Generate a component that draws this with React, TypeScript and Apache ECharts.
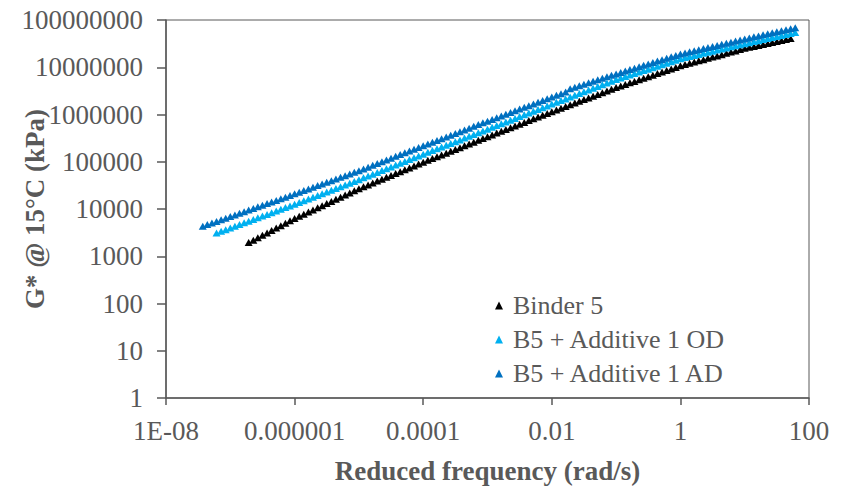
import React, { useEffect, useRef } from "react";
import * as echarts from "echarts";

// Reduced frequency grid (rad/s)
const freqGrid = [
  3.73e-8, 4.39e-8, 5.18e-8, 6.11e-8, 7.2e-8, 8.48e-8,
  1e-7, 1.18e-7, 1.39e-7, 1.64e-7, 1.93e-7, 2.28e-7, 2.68e-7, 3.16e-7, 3.73e-7, 4.39e-7, 5.18e-7, 6.11e-7, 7.2e-7, 8.48e-7,
  1e-6, 1.18e-6, 1.39e-6, 1.64e-6, 1.93e-6, 2.28e-6, 2.68e-6, 3.16e-6, 3.73e-6, 4.39e-6, 5.18e-6, 6.11e-6, 7.2e-6, 8.48e-6,
  1e-5, 1.18e-5, 1.39e-5, 1.64e-5, 1.93e-5, 2.28e-5, 2.68e-5, 3.16e-5, 3.73e-5, 4.39e-5, 5.18e-5, 6.11e-5, 7.2e-5, 8.48e-5,
  1e-4, 1.18e-4, 1.39e-4, 1.64e-4, 1.93e-4, 2.28e-4, 2.68e-4, 3.16e-4, 3.73e-4, 4.39e-4, 5.18e-4, 6.11e-4, 7.2e-4, 8.48e-4,
  1e-3, 1.18e-3, 1.39e-3, 1.64e-3, 1.93e-3, 2.28e-3, 2.68e-3, 3.16e-3, 3.73e-3, 4.39e-3, 5.18e-3, 6.11e-3, 7.2e-3, 8.48e-3,
  0.01, 0.0118, 0.0139, 0.0164, 0.0193, 0.0228, 0.0268, 0.0316, 0.0373, 0.0439, 0.0518, 0.0611, 0.072, 0.0848,
  0.1, 0.118, 0.139, 0.164, 0.193, 0.228, 0.268, 0.316, 0.373, 0.439, 0.518, 0.611, 0.72, 0.848,
  1, 1.18, 1.39, 1.64, 1.93, 2.28, 2.68, 3.16, 3.73, 4.39, 5.18, 6.11, 7.2, 8.48,
  10, 11.8, 13.9, 16.4, 19.3, 22.8, 26.8, 31.6, 37.3, 43.9, 51.8, 61.1,
];

const freqBinder5 = freqGrid.slice(10, 129);
const freqOD = freqGrid.slice(3);
const freqAD = freqGrid.slice(0);

// G* @ 15°C (kPa)
const gBinder5 = [
  1950, 2190, 2470, 2770, 3120, 3510, 3940, 4440, 4990, 5610,
  6310, 7000, 7760, 8610, 9550, 10600, 11700, 13000, 14500, 16000, 17800, 19700, 21900, 24300,
  26900, 29500, 32400, 35500, 38900, 42700, 46800, 51300, 56200, 61700, 67600, 74100, 81300, 89100,
  97700, 107000, 117000, 128000, 139000, 152000, 166000, 182000, 199000, 217000, 238000, 259000, 284000, 310000,
  339000, 370000, 404000, 441000, 480000, 524000, 572000, 624000, 681000, 743000, 811000, 883000, 964000, 1.05e6,
  1.15e6, 1.25e6, 1.36e6, 1.48e6, 1.61e6, 1.75e6, 1.9e6, 2.07e6, 2.24e6, 2.44e6, 2.65e6, 2.89e6, 3.14e6, 3.42e6,
  3.72e6, 4.01e6, 4.33e6, 4.67e6, 5.02e6, 5.42e6, 5.85e6, 6.31e6, 6.81e6, 7.35e6, 7.93e6, 8.53e6, 9.2e6, 9.93e6,
  1.07e7, 1.14e7, 1.21e7, 1.29e7, 1.37e7, 1.45e7, 1.55e7, 1.64e7, 1.74e7, 1.85e7, 1.97e7, 2.09e7, 2.22e7, 2.37e7,
  2.51e7, 2.64e7, 2.76e7, 2.9e7, 3.04e7, 3.19e7, 3.34e7, 3.51e7, 3.68e7, 3.86e7, 4.05e7,
];

const gOD = [
  3110, 3380, 3660,
  3980, 4330, 4690, 5090, 5530, 6010, 6520, 7080, 7690, 8340, 9060, 9840, 10700, 11600,
  12600, 13700, 14900, 16300, 17700, 19300, 21000, 22900, 24900, 27200, 29600, 32300, 35200, 38300,
  41700, 45600, 49800, 54400, 59400, 65000, 71000, 77600, 84900, 92700, 101000, 111000, 121000, 132000,
  145000, 158000, 172000, 188000, 205000, 223000, 244000, 266000, 290000, 317000, 346000, 377000, 411000, 449000,
  490000, 535000, 583000, 637000, 693000, 757000, 826000, 902000, 984000, 1.07e6, 1.17e6, 1.28e6, 1.39e6, 1.52e6,
  1.66e6, 1.81e6, 1.97e6, 2.14e6, 2.34e6, 2.55e6, 2.77e6, 3.02e6, 3.29e6, 3.58e6, 3.9e6, 4.26e6, 4.63e6, 5.05e6,
  5.5e6, 5.9e6, 6.35e6, 6.82e6, 7.35e6, 7.89e6, 8.49e6, 9.12e6, 9.8e6, 1.05e7, 1.13e7, 1.22e7, 1.31e7, 1.41e7,
  1.51e7, 1.6e7, 1.68e7, 1.77e7, 1.87e7, 1.97e7, 2.08e7, 2.19e7, 2.31e7, 2.43e7, 2.56e7, 2.7e7, 2.84e7, 3.0e7,
  3.16e7, 3.32e7, 3.49e7, 3.66e7, 3.86e7, 4.05e7, 4.26e7, 4.47e7, 4.69e7, 4.93e7, 5.18e7, 5.45e7,
];

const gAD = [
  4330, 4680, 5060, 5470, 5920, 6400,
  6920, 7480, 8110, 8770, 9480, 10300, 11100, 12000, 13000, 14100, 15200, 16500, 17800, 19300,
  20900, 22600, 24500, 26600, 28800, 31300, 33900, 36700, 39800, 43200, 46800, 50700, 55000, 59600,
  64600, 70500, 76900, 83900, 91400, 99800, 109000, 119000, 130000, 142000, 155000, 168000, 184000, 200000,
  219000, 238000, 259000, 283000, 308000, 336000, 366000, 398000, 434000, 472000, 514000, 561000, 611000, 665000,
  724000, 787000, 857000, 931000, 1.01e6, 1.1e6, 1.2e6, 1.3e6, 1.42e6, 1.54e6, 1.67e6, 1.82e6, 1.98e6, 2.16e6,
  2.34e6, 2.55e6, 2.76e6, 3.0e6, 3.52e6, 3.77e6, 4.05e6, 4.36e6, 4.69e6, 5.04e6, 5.42e6, 5.82e6, 6.27e6, 6.75e6,
  7.24e6, 7.76e6, 8.32e6, 8.91e6, 9.55e6, 1.02e7, 1.1e7, 1.17e7, 1.26e7, 1.35e7, 1.45e7, 1.55e7, 1.66e7, 1.78e7,
  1.91e7, 2.01e7, 2.12e7, 2.23e7, 2.35e7, 2.48e7, 2.61e7, 2.75e7, 2.9e7, 3.06e7, 3.23e7, 3.4e7, 3.58e7, 3.78e7,
  3.98e7, 4.18e7, 4.4e7, 4.61e7, 4.85e7, 5.09e7, 5.36e7, 5.62e7, 5.9e7, 6.21e7, 6.52e7, 6.86e7,
];

const seriesNames = ["Binder 5", "B5 + Additive 1 OD", "B5 + Additive 1 AD"];
const seriesColors = ["#000000", "#00B0F0", "#0070C0"];

const xTickValues = [1e-8, 1e-6, 1e-4, 1e-2, 1, 100];
const xTickLabels = ["1E-08", "0.000001", "0.0001", "0.01", "1", "100"];
const yTickValues = [1, 10, 100, 1000, 10000, 100000, 1000000, 10000000, 100000000];
const yTickLabels = ["1", "10", "100", "1000", "10000", "100000", "1000000", "10000000", "100000000"];

const xTitle = "Reduced frequency (rad/s)";
const yTitle = "G* @ 15°C (kPa)";

const FONT = '"Liberation Serif", "Times New Roman", serif';
const GREY = "#595959";

function labelFor(values: number[], labels: string[], v: number): string {
  const lv = Math.log10(v);
  const i = values.findIndex((t) => Math.abs(Math.log10(t) - lv) < 0.01);
  return i >= 0 ? labels[i] : "";
}

function zip(xs: number[], ys: number[]): number[][] {
  return ys.map((y, i) => [xs[i], y]);
}

export default function App() {
  const ref = useRef<HTMLDivElement>(null);

  useEffect(() => {
    if (!ref.current) return;
    const chart = echarts.init(ref.current, undefined, { renderer: "svg" });
    const seriesData = [
      zip(freqBinder5, gBinder5),
      zip(freqOD, gOD),
      zip(freqAD, gAD),
    ];
    chart.setOption({
      animation: false,
      backgroundColor: "#ffffff",
      textStyle: { fontFamily: FONT },
      grid: {
        left: 166,
        right: 38,
        top: 20,
        bottom: 89,
        show: true,
        borderColor: GREY,
        borderWidth: 1,
        containLabel: false,
        outerBoundsMode: "none",
      },
      legend: {
        data: seriesNames.map((n) => ({ name: n, icon: "triangle" })),
        orient: "vertical",
        left: 495,
        top: 292,
        padding: 0,
        itemWidth: 8,
        itemHeight: 8,
        itemGap: 7,
        selectedMode: false,
        textStyle: {
          fontFamily: FONT,
          fontSize: 26,
          lineHeight: 27,
          color: GREY,
          padding: [0, 0, 0, 5],
        },
      },
      xAxis: {
        type: "log",
        logBase: 10,
        min: 1e-8,
        max: 100,
        name: xTitle,
        nameLocation: "middle",
        nameGap: 59,
        nameMoveOverlap: false,
        nameTextStyle: { fontFamily: FONT, fontSize: 27, fontWeight: "bold", color: GREY },
        axisLine: { show: true, onZero: false, lineStyle: { color: GREY, width: 1.5 } },
        axisTick: { show: true, length: 7, inside: false, customValues: xTickValues, lineStyle: { color: GREY, width: 1.5 } },
        axisLabel: {
          customValues: xTickValues,
          margin: 19,
          fontFamily: FONT,
          fontSize: 27,
          color: GREY,
          formatter: (v: number) => labelFor(xTickValues, xTickLabels, v),
        },
        splitLine: { show: false },
        minorTick: { show: false },
      },
      yAxis: {
        type: "log",
        logBase: 10,
        min: 1,
        max: 100000000,
        name: yTitle,
        nameLocation: "middle",
        nameGap: 118,
        nameRotate: 90,
        nameMoveOverlap: false,
        nameTextStyle: { fontFamily: FONT, fontSize: 27, fontWeight: "bold", color: GREY },
        axisLine: { show: true, onZero: false, lineStyle: { color: GREY, width: 1.5 } },
        axisTick: { show: true, length: 9, inside: false, customValues: yTickValues, lineStyle: { color: GREY, width: 1.5 } },
        axisLabel: {
          customValues: yTickValues,
          margin: 23,
          fontFamily: FONT,
          fontSize: 27,
          color: GREY,
          formatter: (v: number) => labelFor(yTickValues, yTickLabels, v),
        },
        splitLine: { show: false },
        minorTick: { show: false },
      },
      series: seriesNames.map((name, i) => ({
        name,
        type: "scatter",
        symbol: "triangle",
        symbolSize: [8, 7],
        data: seriesData[i],
        itemStyle: { color: seriesColors[i], opacity: 1 },
        emphasis: { disabled: true },
        z: 2 + i,
      })),
    });
    return () => {
      chart.dispose();
    };
  }, []);

  return (
    <div
      ref={ref}
      style={{ position: "absolute", left: 0, top: 0, width: 847, height: 487 }}
    />
  );
}
